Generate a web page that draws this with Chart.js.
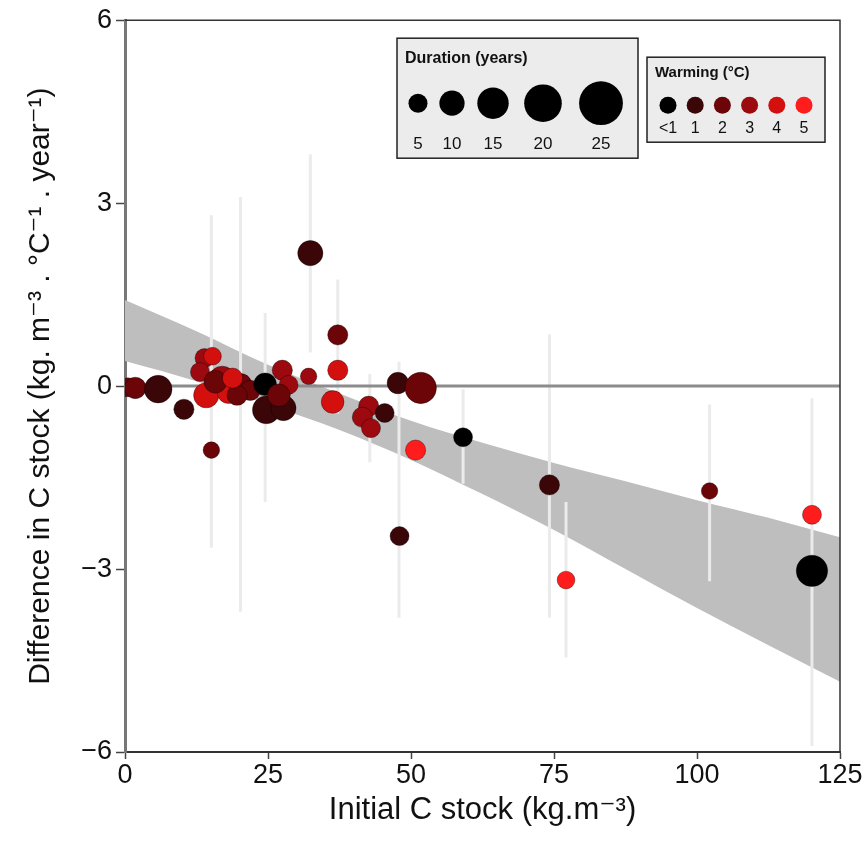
<!DOCTYPE html>
<html>
<head>
<meta charset="utf-8">
<script src="https://cdn.jsdelivr.net/npm/chart.js@4.4.0/dist/chart.umd.min.js"></script>
<style>
  html, body { margin: 0; padding: 0; background: #fff; }
</style>
</head>
<body>
<canvas id="chart" width="868" height="843"></canvas>
<script>
// Points: initial C stock (x), difference in C stock (y), duration (years), warming class (0 = <1 ... 5)
const stockX = [0.5, 1.8, 5.8, 10.3, 13.9, 15.3, 13.1, 14.2, 17.0, 18.1, 15.8, 20.2, 21.9, 19.6, 18.8,
  24.5, 24.7, 27.7, 27.5, 28.6, 26.9, 15.1, 32.4, 32.1, 37.2, 37.2, 36.3, 42.6, 41.5, 43.0,
  45.4, 47.7, 51.7, 50.8, 48.0, 59.1, 74.2, 77.1, 102.2, 120.1, 120.1];
const diffY = [-0.02, -0.03, -0.05, -0.38, 0.46, 0.49, 0.23, -0.15, 0.10, -0.10, 0.07, 0.02, -0.07, -0.15, 0.13,
  0.03, -0.39, -0.36, 0.26, 0.02, -0.15, -1.05, 2.18, 0.16, 0.84, 0.26, -0.26, -0.33, -0.51, -0.69,
  -0.44, 0.05, -0.03, -1.05, -2.46, -0.84, -1.62, -3.18, -1.72, -2.11, -3.03];
const duration = [5, 7, 12, 6, 5, 4, 5, 10, 12, 8, 8, 8, 6, 6, 6,
  8, 12, 10, 6, 5, 8, 3, 10, 3, 6, 6, 8, 6, 6, 5,
  5, 7, 15, 6, 5, 5, 6, 4, 3, 5, 15];
const warming = [2, 2, 1, 1, 3, 4, 3, 4, 3, 4, 2, 2, 2, 2, 4,
  0, 1, 1, 3, 3, 2, 2, 1, 3, 2, 4, 4, 3, 3, 3,
  1, 1, 2, 5, 1, 0, 1, 5, 2, 5, 0];

// Error bars (x, lower, upper)
const errX = [32.4, 37.2, 20.2, 15.1, 24.5, 47.9, 42.8, 59.1, 74.2, 77.1, 102.2, 120.1];
const errLo = [0.55, -0.45, -3.7, -2.65, -1.9, -3.8, -1.25, -1.6, -3.8, -4.45, -3.2, -5.9];
const errHi = [3.8, 1.75, 3.1, 2.8, 1.2, 0.4, 0.2, -0.05, 0.85, -1.9, -0.3, -0.2];

// Confidence band of the regression
const bandX = [0, 12.5, 25, 37.5, 50, 62.5, 75, 87.5, 100, 112.5, 125];
const bandUpper = [1.41, 0.90, 0.35, -0.12, -0.57, -0.93, -1.26, -1.56, -1.87, -2.16, -2.48];
const bandLower = [0.41, 0.08, -0.30, -0.72, -1.21, -1.77, -2.36, -3.00, -3.64, -4.25, -4.85];

// Axes and legends
const xTicks = [0, 25, 50, 75, 100, 125];
const yTicks = [-6, -3, 0, 3, 6];
const durationLegend = [5, 10, 15, 20, 25];
const warmingLegend = ['<1', '1', '2', '3', '4', '5'];

const warmColors = ['#000000', '#3a0608', '#6b0508', '#9c0a10', '#d4100f', '#ff1c1c'];
const FONT = "'Liberation Sans', Arial, 'DejaVu Sans', sans-serif";
const radiusFor = d => 6.4 + 0.62 * d;

Chart.defaults.font.family = FONT;
Chart.defaults.color = '#111';

const points = stockX.map((x, i) => ({ x: x, y: diffY[i] }));
const errData = [];
errX.forEach((x, i) => {
  errData.push({ x: x, y: errLo[i] }, { x: x, y: errHi[i] }, { x: x, y: null });
});

// top/right frame
const framePlugin = {
  id: 'frame',
  afterDatasetsDraw(chart) {
    const { ctx, chartArea: a } = chart;
    ctx.save();
    ctx.strokeStyle = '#333';
    ctx.lineWidth = 1.5;
    ctx.beginPath();
    ctx.moveTo(a.left, a.top);
    ctx.lineTo(a.right, a.top);
    ctx.lineTo(a.right, a.bottom);
    ctx.stroke();
    ctx.restore();
  }
};

// two legend boxes
const legendPlugin = {
  id: 'legendBoxes',
  afterDraw(chart) {
    const { ctx, chartArea: a } = chart;
    ctx.save();
    // Duration
    let bx = a.left + 272, by = a.top + 18;
    ctx.fillStyle = '#ececec';
    ctx.fillRect(bx, by, 241, 120);
    ctx.strokeStyle = '#222';
    ctx.lineWidth = 1.5;
    ctx.strokeRect(bx, by, 241, 120);
    ctx.fillStyle = '#111';
    ctx.font = 'bold 16px ' + FONT;
    ctx.textAlign = 'left';
    ctx.textBaseline = 'middle';
    ctx.fillText('Duration (years)', bx + 8, by + 20);
    const dx = [21, 55, 96, 146, 204];
    durationLegend.forEach((d, i) => {
      ctx.fillStyle = '#000';
      ctx.beginPath();
      ctx.arc(bx + dx[i], by + 65, radiusFor(d), 0, Math.PI * 2);
      ctx.fill();
      ctx.fillStyle = '#111';
      ctx.font = '17px ' + FONT;
      ctx.textAlign = 'center';
      ctx.fillText(String(d), bx + dx[i], by + 106);
    });
    // Warming
    bx = a.left + 522; by = a.top + 37;
    ctx.fillStyle = '#ececec';
    ctx.fillRect(bx, by, 178, 85);
    ctx.strokeRect(bx, by, 178, 85);
    ctx.fillStyle = '#111';
    ctx.font = 'bold 15px ' + FONT;
    ctx.textAlign = 'left';
    ctx.fillText('Warming (\u00B0C)', bx + 8, by + 16);
    warmingLegend.forEach((w, i) => {
      const cx = bx + 21 + i * 27.2;
      ctx.fillStyle = warmColors[i];
      ctx.beginPath();
      ctx.arc(cx, by + 48, 8.5, 0, Math.PI * 2);
      ctx.fill();
      ctx.fillStyle = '#111';
      ctx.font = '16px ' + FONT;
      ctx.textAlign = 'center';
      ctx.fillText(w, cx, by + 71);
    });
    ctx.restore();
  }
};

new Chart(document.getElementById('chart'), {
  type: 'scatter',
  data: {
    datasets: [
      {
        type: 'line',
        data: bandX.map((x, i) => ({ x: x, y: bandUpper[i] })),
        borderWidth: 0,
        borderColor: 'rgba(0,0,0,0)',
        pointRadius: 0,
        fill: false,
        cubicInterpolationMode: 'monotone',
        order: 5
      },
      {
        type: 'line',
        data: bandX.map((x, i) => ({ x: x, y: bandLower[i] })),
        borderWidth: 0,
        borderColor: 'rgba(0,0,0,0)',
        backgroundColor: '#bebebe',
        pointRadius: 0,
        fill: '-1',
        cubicInterpolationMode: 'monotone',
        order: 4
      },
      {
        type: 'line',
        data: errData,
        borderColor: '#ebebeb',
        borderWidth: 3,
        pointRadius: 0,
        spanGaps: false,
        fill: false,
        order: 3
      },
      {
        type: 'line',
        data: [{ x: xTicks[0], y: 0 }, { x: xTicks[xTicks.length - 1], y: 0 }],
        borderColor: '#8c8c8c',
        borderWidth: 3,
        pointRadius: 0,
        fill: false,
        order: 2
      },
      {
        data: points,
        pointRadius: duration.map(radiusFor),
        pointBackgroundColor: warming.map(w => warmColors[w]),
        pointBorderColor: 'rgba(0,0,0,0.35)',
        pointBorderWidth: 1,
        order: 1
      }
    ]
  },
  options: {
    responsive: false,
    animation: false,
    devicePixelRatio: 1,
    layout: { padding: { top: 20, right: 28, left: 0, bottom: 0 } },
    plugins: { legend: { display: false }, tooltip: { enabled: false } },
    scales: {
      x: {
        type: 'linear',
        min: xTicks[0],
        max: xTicks[xTicks.length - 1],
        afterBuildTicks: s => { s.ticks = xTicks.map(v => ({ value: v })); },
        afterFit: s => { s.height = 91; },
        border: { display: true, color: '#333', width: 2 },
        grid: { drawOnChartArea: false, drawTicks: true, tickLength: 7, tickColor: '#444', tickWidth: 1.5 },
        ticks: { font: { size: 27 }, color: '#111', padding: 0, maxRotation: 0 },
        title: { display: true, text: 'Initial C stock (kg.m\u207B\u00B3)', font: { size: 31 }, color: '#111', padding: { top: 0, bottom: 14 } }
      },
      y: {
        type: 'linear',
        min: yTicks[0],
        max: yTicks[yTicks.length - 1],
        afterBuildTicks: s => { s.ticks = yTicks.map(v => ({ value: v })); },
        afterFit: s => { s.width = 125; },
        border: { display: true, color: '#777', width: 3 },
        grid: { drawOnChartArea: false, drawTicks: true, tickLength: 9, tickColor: '#444', tickWidth: 1.5 },
        ticks: { font: { size: 27 }, color: '#111', padding: 4, callback: v => String(v).replace('-', '\u2212') },
        title: { display: true, text: 'Difference in C stock (kg. m\u207B\u00B3 . \u00B0C\u207B\u00B9 . year\u207B\u00B9)', font: { size: 30 }, color: '#111', padding: { top: 23, bottom: 0 } }
      }
    }
  },
  plugins: [framePlugin, legendPlugin]
});
</script>
</body>
</html>
